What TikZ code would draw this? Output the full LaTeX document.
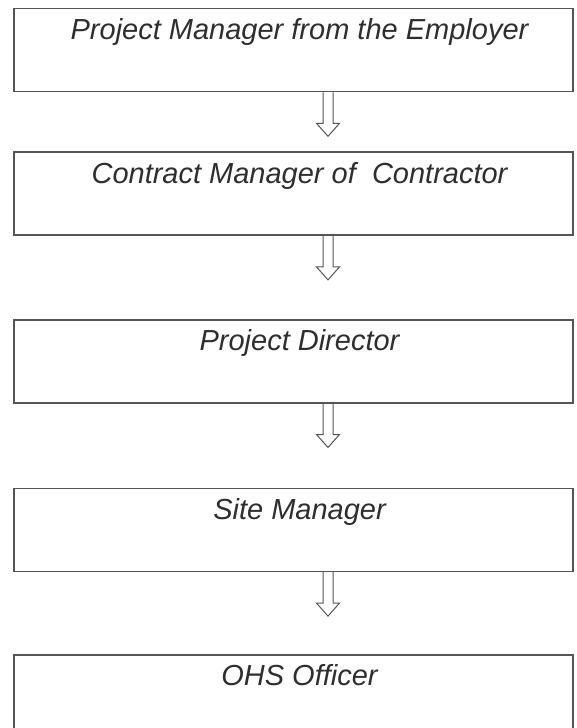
\documentclass[tikz,border=0pt]{standalone}
\usepackage{fontspec}
\setmainfont{Liberation Sans}
\usepackage{xcolor}
\usetikzlibrary{positioning,calc}
\definecolor{boxline}{HTML}{555555}
\definecolor{boxtext}{HTML}{2E2E2E}
\tikzset{
  rolebox/.style={
    draw=boxline, line width=1.6pt, rectangle, inner sep=0pt,
    minimum width=559pt, text height=31pt, text depth=52pt,
    font=\fontsize{29}{34}\selectfont\itshape, text=boxtext,
    execute at begin node=\hspace*{12pt}
  },
  % hollow block arrow hanging below the upper box
  hollowarrow/.style={
    draw=boxline, line width=1pt, line join=miter,
    to path={
      ($(\tikztostart.south)+(29.5,0)$) -- ++(0,31) -- ++(-6.5,0)
      -- ++(11.5,13) -- ++(11.5,-13) -- ++(-6.5,0) -- ++(0,-31)
    }
  },
}
\begin{document}
\begin{tikzpicture}[x=1pt, y=-1pt]
    \useasboundingbox (0,0) rectangle (576,728);
    \node[rolebox] (pm) at (293.5,50) {Project Manager from the Employer};
    \node[rolebox, below=59pt of pm] (cm) {Contract Manager of\ \ Contractor};
    \node[rolebox, below=83pt of cm] (pd) {Project Director};
    \node[rolebox, below=84pt of pd] (sm) {Site Manager};
    \node[rolebox, below=82pt of sm] (ohs) {OHS Officer};
    \draw[hollowarrow] (pm) to (cm);
    \draw[hollowarrow] (cm) to (pd);
    \draw[hollowarrow] (pd) to (sm);
    \draw[hollowarrow] (sm) to (ohs);
  \end{tikzpicture}
\end{document}
